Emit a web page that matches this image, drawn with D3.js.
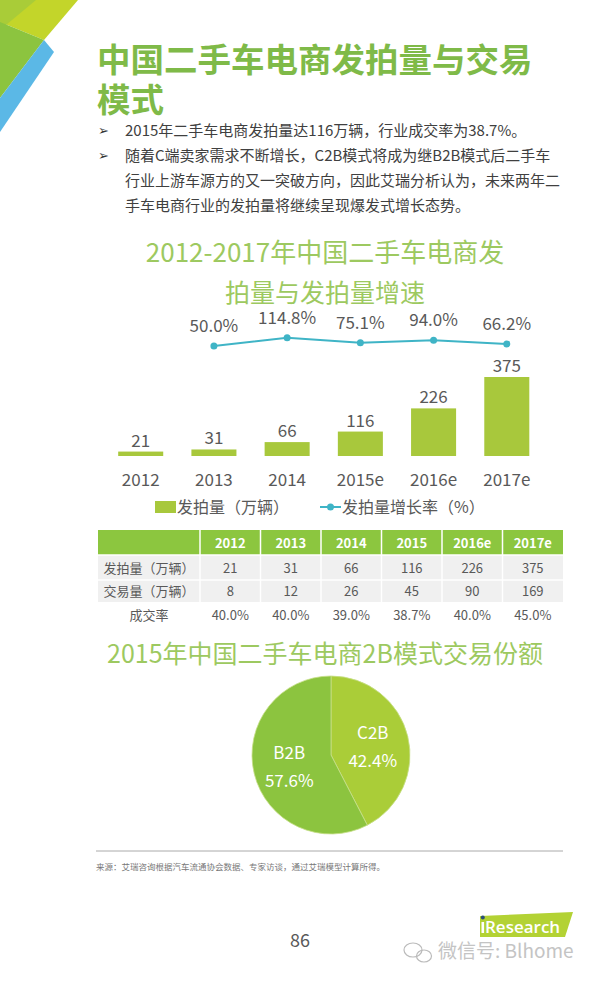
<!DOCTYPE html>
<html>
<head>
<meta charset="utf-8">
<script src="https://cdn.jsdelivr.net/npm/d3@7"></script>
<style>
  body { margin: 0; background: #fff; }
  svg { display: block; font-family: "Noto Sans CJK SC", "Noto Sans", sans-serif; }
</style>
</head>
<body>
<div id="page"></div>
<script>
// data
const years = ["2012", "2013", "2014", "2015e", "2016e", "2017e"];
const auctionVol = [21, 31, 66, 116, 226, 375];
const growthRate = [null, 50.0, 114.8, 75.1, 94.0, 66.2];

const tableYears = ["2012", "2013", "2014", "2015", "2016e", "2017e"];
const rowNames = ["发拍量（万辆）", "交易量（万辆）", "成交率"];
const dealVol = [8, 12, 26, 45, 90, 169];
const dealRate = ["40.0%", "40.0%", "39.0%", "38.7%", "40.0%", "45.0%"];

const shareNames = ["C2B", "B2B"];
const shareValues = [42.4, 57.6];

const bullets = [
  ["2015年二手车电商发拍量达116万辆，行业成交率为38.7%。"],
  ["随着C端卖家需求不断增长，C2B模式将成为继B2B模式后二手车",
   "行业上游车源方的又一突破方向，因此艾瑞分析认为，未来两年二",
   "手车电商行业的发拍量将继续呈现爆发式增长态势。"]
];

const w = 600;
const h = 984;
const green = "#7fba48";
const lightGreen = "#9dc960";
const barColor = "#a8c83c";
const lineColor = "#3fb4c6";
const grey = "#595959";

const svg = d3.select("#page")
              .append("svg")
              .attr("width", w)
              .attr("height", h);

// corner decoration
const corner = [
  {pts: [[0,0],[78,0],[44,40],[0,22]], fill: "#c3d52a"},
  {pts: [[0,0],[36,0],[0,30]], fill: "#a9cc38"},
  {pts: [[0,22],[44,40],[0,98]], fill: "#8cc43f"},
  {pts: [[44,40],[54,52],[0,132],[0,98]], fill: "#5bb8e6"}
];
svg.selectAll("polygon.corner")
   .data(corner)
   .enter()
   .append("polygon")
   .attr("class", "corner")
   .attr("points", d => d.pts.map(p => p.join(",")).join(" "))
   .attr("fill", d => d.fill);

// headline
svg.append("text")
   .attr("x", 97).attr("y", 72)
   .attr("font-size", 33.5).attr("font-weight", 700)
   .attr("fill", green)
   .text("中国二手车电商发拍量与交易");
svg.append("text")
   .attr("x", 97).attr("y", 112)
   .attr("font-size", 33.5).attr("font-weight", 700)
   .attr("fill", green)
   .text("模式");

// bullet text
let lineY = 136;
bullets.forEach(function(par) {
  svg.append("text")
     .attr("x", 98).attr("y", lineY - 1)
     .attr("font-size", 13)
     .attr("font-family", "DejaVu Sans")
     .attr("fill", "#333")
     .text("➢");
  par.forEach(function(line) {
    svg.append("text")
       .attr("x", 125).attr("y", lineY)
       .attr("font-size", 15)
       .attr("fill", "#404040")
       .text(line);
    lineY += 25;
  });
});

// chart 1 title
svg.append("text")
   .attr("x", 325).attr("y", 262)
   .attr("text-anchor", "middle")
   .attr("font-size", 26)
   .attr("fill", lightGreen)
   .text("2012-2017年中国二手车电商发");
svg.append("text")
   .attr("x", 325).attr("y", 302)
   .attr("text-anchor", "middle")
   .attr("font-size", 25)
   .attr("fill", lightGreen)
   .text("拍量与发拍量增速");

// bar + line chart
const xScale = d3.scaleBand()
                 .domain(years)
                 .range([90, 557.5])
                 .paddingInner(0.385)
                 .paddingOuter(0.385);

const yScale = d3.scaleLinear()
                 .domain([0, 375])
                 .range([456, 377]);

const gScale = d3.scaleLinear()
                 .domain([0, 100])
                 .range([352.4, 339.6]);

const cx = d => xScale(d) + xScale.bandwidth() / 2;

svg.selectAll("rect.bar")
   .data(auctionVol)
   .enter()
   .append("rect")
   .attr("class", "bar")
   .attr("x", (d, i) => xScale(years[i]))
   .attr("y", d => yScale(d))
   .attr("width", xScale.bandwidth())
   .attr("height", d => yScale(0) - yScale(d))
   .attr("fill", barColor);

svg.selectAll("text.barlabel")
   .data(auctionVol)
   .enter()
   .append("text")
   .attr("class", "barlabel")
   .attr("x", (d, i) => cx(years[i]))
   .attr("y", d => yScale(d) - 5)
   .attr("text-anchor", "middle")
   .attr("font-size", 17)
   .attr("fill", grey)
   .text(d => d);

const xAxis = d3.axisBottom(xScale).tickSize(0).tickPadding(0);
svg.append("g")
   .attr("transform", "translate(0, 474)")
   .call(xAxis)
   .call(g => g.select(".domain").remove())
   .selectAll("text")
   .attr("font-size", 17)
   .attr("font-family", "Noto Sans CJK SC")
   .attr("fill", grey);

const growthPts = years.map((y, i) => ({year: y, v: growthRate[i]}))
                       .filter(d => d.v !== null);

const line = d3.line()
               .x(d => cx(d.year))
               .y(d => gScale(d.v));

svg.append("path")
   .datum(growthPts)
   .attr("d", line)
   .attr("fill", "none")
   .attr("stroke", lineColor)
   .attr("stroke-width", 2);

svg.selectAll("circle.pt")
   .data(growthPts)
   .enter()
   .append("circle")
   .attr("class", "pt")
   .attr("cx", d => cx(d.year))
   .attr("cy", d => gScale(d.v))
   .attr("r", 3.5)
   .attr("fill", lineColor);

svg.selectAll("text.ptlabel")
   .data(growthPts)
   .enter()
   .append("text")
   .attr("class", "ptlabel")
   .attr("x", d => cx(d.year))
   .attr("y", d => gScale(d.v) - 14)
   .attr("text-anchor", "middle")
   .attr("font-size", 17)
   .attr("fill", grey)
   .text(d => d.v.toFixed(1) + "%");

// legend
svg.append("rect")
   .attr("x", 155).attr("y", 501)
   .attr("width", 21).attr("height", 12)
   .attr("fill", barColor);
svg.append("text")
   .attr("x", 177).attr("y", 513)
   .attr("font-size", 16)
   .attr("fill", grey)
   .text("发拍量（万辆）");
svg.append("line")
   .attr("x1", 320).attr("x2", 341)
   .attr("y1", 507).attr("y2", 507)
   .attr("stroke", lineColor).attr("stroke-width", 2);
svg.append("circle")
   .attr("cx", 330.5).attr("cy", 507).attr("r", 3.5)
   .attr("fill", lineColor);
svg.append("text")
   .attr("x", 342).attr("y", 513)
   .attr("font-size", 16)
   .attr("fill", grey)
   .text("发拍量增长率（%）");

// table
const colScale = d3.scaleBand()
                   .domain(tableYears)
                   .range([200, 563]);
const rowTops = [530, 555, 580, 602];
const rowH = [25, 25, 22, 25];
const tableLeft = 98;

svg.append("rect")
   .attr("x", tableLeft).attr("y", rowTops[0])
   .attr("width", 563 - tableLeft).attr("height", rowH[0])
   .attr("fill", "#8cc63f");
svg.append("rect")
   .attr("x", tableLeft).attr("y", rowTops[1])
   .attr("width", 563 - tableLeft).attr("height", rowH[1] + rowH[2])
   .attr("fill", "#f0f0f0");

svg.selectAll("line.colsep")
   .data(tableYears)
   .enter()
   .append("line")
   .attr("class", "colsep")
   .attr("x1", d => colScale(d)).attr("x2", d => colScale(d))
   .attr("y1", rowTops[0]).attr("y2", rowTops[3])
   .attr("stroke", "#fff").attr("stroke-width", 1.5);
svg.append("line")
   .attr("x1", tableLeft).attr("x2", 563)
   .attr("y1", rowTops[1]).attr("y2", rowTops[1])
   .attr("stroke", "#fff").attr("stroke-width", 1.5);
svg.append("line")
   .attr("x1", tableLeft).attr("x2", 563)
   .attr("y1", rowTops[2]).attr("y2", rowTops[2])
   .attr("stroke", "#fff").attr("stroke-width", 1.5);

svg.selectAll("text.colhead")
   .data(tableYears)
   .enter()
   .append("text")
   .attr("class", "colhead")
   .attr("x", d => colScale(d) + colScale.bandwidth() / 2)
   .attr("y", rowTops[0] + 18)
   .attr("text-anchor", "middle")
   .attr("font-size", 13).attr("font-weight", 700)
   .attr("fill", "#fff")
   .text(d => d);

const tableData = [auctionVol, dealVol, dealRate];
tableData.forEach(function(row, r) {
  const base = rowTops[r + 1] + rowH[r + 1] / 2 + 5;
  svg.append("text")
     .attr("x", 149).attr("y", base)
     .attr("text-anchor", "middle")
     .attr("font-size", 13)
     .attr("fill", grey)
     .text(rowNames[r]);
  svg.selectAll("text.cell" + r)
     .data(row)
     .enter()
     .append("text")
     .attr("class", "cell" + r)
     .attr("x", (d, i) => colScale(tableYears[i]) + colScale.bandwidth() / 2)
     .attr("y", base)
     .attr("text-anchor", "middle")
     .attr("font-size", 13)
     .attr("fill", grey)
     .text(d => d);
});

// pie title
svg.append("text")
   .attr("x", 325).attr("y", 663)
   .attr("text-anchor", "middle")
   .attr("font-size", 25)
   .attr("fill", lightGreen)
   .text("2015年中国二手车电商2B模式交易份额");

// pie
const pieData = shareNames.map((n, i) => ({name: n, v: shareValues[i]}));
const pie = d3.pie().sort(null).value(d => d.v);
const arc = d3.arc().innerRadius(0).outerRadius(79);
const pieColors = d3.scaleOrdinal().domain(shareNames).range(["#aacd38", "#8cc43f"]);
const pieG = svg.append("g").attr("transform", "translate(331, 755)");

pieG.selectAll("path")
    .data(pie(pieData))
    .enter()
    .append("path")
    .attr("d", arc)
    .attr("fill", d => pieColors(d.data.name))
    .attr("stroke", "#c8e08a")
    .attr("stroke-width", 0.8);

const labelArc = d3.arc().innerRadius(43).outerRadius(43);
const pieLabels = pieG.selectAll("g.plabel")
    .data(pie(pieData))
    .enter()
    .append("g")
    .attr("class", "plabel")
    .attr("transform", d => "translate(" + labelArc.centroid(d) + ")");
pieLabels.append("text")
    .attr("y", -6)
    .attr("text-anchor", "middle")
    .attr("font-size", 17)
    .attr("fill", "#fff")
    .text(d => d.data.name);
pieLabels.append("text")
    .attr("y", 22)
    .attr("text-anchor", "middle")
    .attr("font-size", 17)
    .attr("fill", "#fff")
    .text(d => d.data.v.toFixed(1) + "%");

// footer
svg.append("line")
   .attr("x1", 96).attr("x2", 563)
   .attr("y1", 851).attr("y2", 851)
   .attr("stroke", "#aaa").attr("stroke-width", 1);
svg.append("text")
   .attr("x", 96).attr("y", 870)
   .attr("font-size", 8.5)
   .attr("fill", "#777")
   .text("来源：艾瑞咨询根据汽车流通协会数据、专家访谈，通过艾瑞模型计算所得。");
svg.append("text")
   .attr("x", 300).attr("y", 947)
   .attr("text-anchor", "middle")
   .attr("font-size", 18)
   .attr("fill", grey)
   .text("86");

// iResearch logo
svg.append("polygon")
   .attr("points", "480,916 573,912 565,937 480,937")
   .attr("fill", "#b3d234");
svg.append("text")
   .attr("x", 481).attr("y", 933)
   .attr("font-size", 17)
   .attr("font-weight", 600)
   .attr("font-family", "Open Sans")
   .attr("fill", "#fff")
   .text("Research")
   .attr("dx", 4);
svg.append("rect")
   .attr("x", 481.5).attr("y", 922).attr("width", 2.6).attr("height", 11)
   .attr("fill", "#fff");
svg.append("circle")
   .attr("cx", 482.8).attr("cy", 917.5).attr("r", 2)
   .attr("fill", "#2b4f7a");

// watermark
const wm = svg.append("g").attr("fill", "none").attr("stroke", "#bbb").attr("stroke-width", 1.2);
wm.append("ellipse").attr("cx", 413).attr("cy", 950).attr("rx", 9).attr("ry", 7);
wm.append("ellipse").attr("cx", 424).attr("cy", 956).attr("rx", 7.5).attr("ry", 6);
svg.append("text")
   .attr("x", 438).attr("y", 958)
   .attr("font-size", 19)
   .attr("fill", "#c4c4c4")
   .text("微信号: Blhome");
</script>
</body>
</html>
